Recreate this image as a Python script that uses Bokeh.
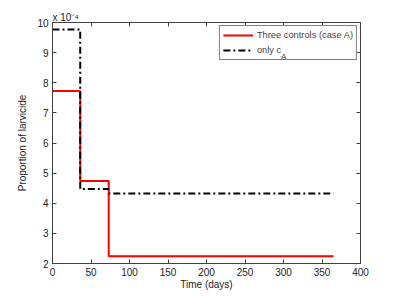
from bokeh.plotting import figure
from bokeh.models import Range1d, FixedTicker, Legend, LegendItem, LinearAxis, CustomJSTickFormatter, Title
from bokeh.embed import file_html
from bokeh.resources import INLINE

# data
days_steps = [0, 36, 73, 365]
three_controls = [7.73, 4.74, 2.24]
only_cA = [9.77, 4.47, 4.32]
x_ticks = [0, 50, 100, 150, 200, 250, 300, 350, 400]
y_ticks = [2, 3, 4, 5, 6, 7, 8, 9, 10]

def stairs(edges, vals):
    xs, ys = [], []
    for i, v in enumerate(vals):
        xs += [edges[i], edges[i + 1]]
        ys += [v, v]
    return xs, ys

FONT = "Liberation Sans"
AX = "#404040"

p = figure(frame_width=308, frame_height=241, output_backend="svg", toolbar_location=None,
           x_range=Range1d(0, 400), y_range=Range1d(2, 10),
           min_border_left=52, min_border_top=22, min_border_right=20, min_border_bottom=10)
p.xgrid.visible = False
p.ygrid.visible = False
p.outline_line_color = AX

for ax, lab, tk in ((p.xaxis[0], "Time (days)", x_ticks), (p.yaxis[0], "Proportion of larvicide", y_ticks)):
    ax.ticker = FixedTicker(ticks=tk)
    ax.axis_label = lab
    ax.axis_label_text_font = FONT
    ax.axis_label_text_font_style = "normal"
    ax.axis_label_text_font_size = "10px"
    ax.major_label_text_font = FONT
    ax.major_label_text_font_size = "10px"
    ax.major_label_text_color = "#222"
    ax.axis_label_text_color = "#222"
    ax.axis_line_color = AX
    ax.major_tick_line_color = AX
    ax.major_tick_in = 4
    ax.major_tick_out = 0
    ax.minor_tick_line_color = None
    ax.major_label_standoff = 4
p.xaxis[0].axis_label_standoff = 0
p.yaxis[0].axis_label_standoff = 6

for loc, tk in (("right", y_ticks), ("above", x_ticks)):
    a = LinearAxis(ticker=FixedTicker(ticks=tk), formatter=CustomJSTickFormatter(code="return ''"),
                   major_tick_in=4, major_tick_out=0, minor_tick_line_color=None,
                   axis_line_color=AX, major_tick_line_color=AX, major_label_standoff=0,
                   major_label_text_font_size="1px")
    p.add_layout(a, loc)

p.add_layout(Title(text="x 10\u207b\u2074", align="left", text_font=FONT, text_font_size="10px",
                   text_font_style="normal", text_color="#222", standoff=0, offset=0), "above")

xr, yr = stairs(days_steps, three_controls)
xb, yb = stairs(days_steps, only_cA)
r1 = p.line(xr, yr, line_color="red", line_width=2)
r2 = p.line(xb, yb, line_color="black", line_width=2, line_dash="7 3 2 3")

leg = Legend(items=[LegendItem(label="Three controls (case A)", renderers=[r1]),
                    LegendItem(label="only c", renderers=[r2])],
             location="top_right", label_text_font=FONT, label_text_font_size="9.3px",
             border_line_color="black", border_line_width=1, glyph_width=30, glyph_height=12,
             label_standoff=4, spacing=3, padding=3, margin=3, label_height=12)
p.add_layout(leg)

sub = Legend(items=[LegendItem(label="A" + "\u00a0" * 21, renderers=[r2])], location="top_right",
             label_text_font=FONT, label_text_font_size="7.5px", glyph_width=1, glyph_height=1,
             label_standoff=0, padding=0, margin=30, label_height=8, spacing=0,
             border_line_color=None, background_fill_alpha=0)
p.add_layout(sub)

open("out.html", "w").write(file_html(p, INLINE))
